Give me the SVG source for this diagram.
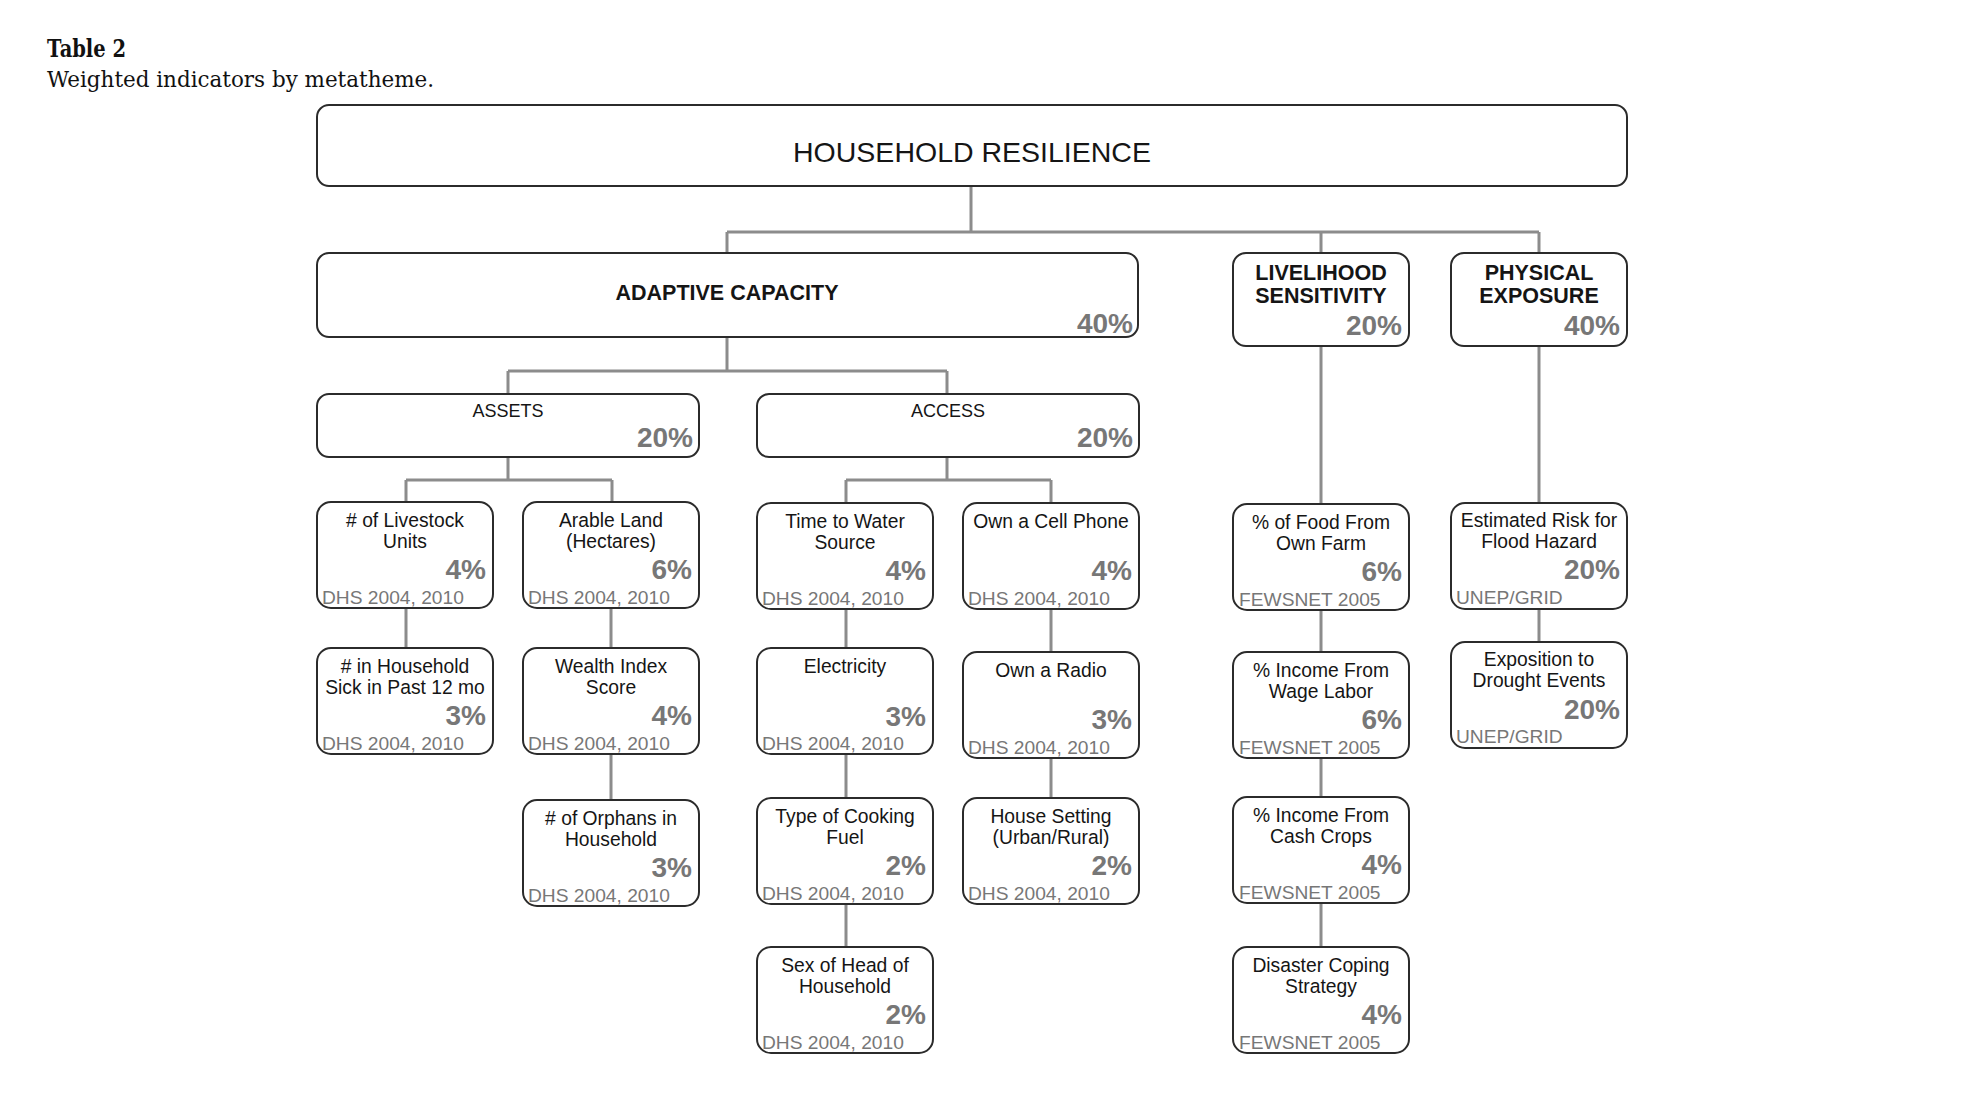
<svg xmlns="http://www.w3.org/2000/svg" width="1980" height="1094" viewBox="0 0 1980 1094">
<style>
.bg{fill:#fff}
.box{fill:#fff;stroke:#2b2b2b;stroke-width:2}
.conn{stroke:#8c8c8c;stroke-width:3;fill:none}
.cap{font-family:"DejaVu Serif","Liberation Serif",serif;fill:#111}
.t{font-family:"Liberation Sans",Arial,sans-serif;fill:#151515;text-anchor:middle}
.lbl{font-size:19.3px}
.hdr{font-size:21.5px;font-weight:bold}
.pct{font-family:"Liberation Sans",Arial,sans-serif;font-weight:bold;font-size:28px;fill:#777;text-anchor:end}
.src{font-family:"Liberation Sans",Arial,sans-serif;font-size:19.2px;fill:#777}
</style>
<rect class="bg" x="0" y="0" width="1980" height="1094"/>
<g id="caption">
<text class="cap" x="47" y="57" font-size="23.5" font-weight="bold" textLength="79" lengthAdjust="spacingAndGlyphs">Table 2</text>
<text class="cap" x="47" y="87" font-size="21.5" textLength="387" lengthAdjust="spacingAndGlyphs">Weighted indicators by metatheme.</text>
</g>
<g id="connectors">
<path class="conn" d="M971,186V232M727,232H1539M727,232V253M1321,232V253M1539,232V253"/>
<path class="conn" d="M727,337V371M508,371H947M508,371V394M947,371V394"/>
<path class="conn" d="M508,457V480M406,480H612M406,480V502M612,480V502"/>
<path class="conn" d="M947,457V480M846,480H1051M846,480V503M1051,480V503"/>
<path class="conn" d="M406,608V648M611,608V648M611,754V800"/>
<path class="conn" d="M846,609V648M846,754V798M846,904V947M1051,609V652M1051,758V798"/>
<path class="conn" d="M1321,346V504M1321,610V652M1321,758V797M1321,903V947M1539,346V503M1539,609V642"/>
</g>
<g id="household-resilience">
<rect class="box" x="317" y="105" width="1310" height="81" rx="12"/>
<text class="t" x="972" y="162" font-size="28.5">HOUSEHOLD RESILIENCE</text>
</g>
<g id="adaptive-capacity">
<rect class="box" x="317" y="253" width="821" height="84" rx="12"/>
<text class="t hdr" x="727" y="300">ADAPTIVE CAPACITY</text>
<text class="pct" x="1133" y="333" font-size="27">40%</text>
</g>
<g id="livelihood-sensitivity">
<rect class="box" x="1233" y="253" width="176" height="93" rx="13"/>
<text class="t hdr" x="1321" y="280" font-size="21">LIVELIHOOD</text>
<text class="t hdr" x="1321" y="303" font-size="21">SENSITIVITY</text>
<text class="pct" x="1402" y="335">20%</text>
</g>
<g id="physical-exposure">
<rect class="box" x="1451" y="253" width="176" height="93" rx="13"/>
<text class="t hdr" x="1539" y="280" font-size="21">PHYSICAL</text>
<text class="t hdr" x="1539" y="303" font-size="21">EXPOSURE</text>
<text class="pct" x="1620" y="335">40%</text>
</g>
<g id="assets">
<rect class="box" x="317" y="394" width="382" height="63" rx="12"/>
<text class="t" x="508" y="417" font-size="18">ASSETS</text>
<text class="pct" x="693" y="447">20%</text>
</g>
<g id="access">
<rect class="box" x="757" y="394" width="382" height="63" rx="12"/>
<text class="t" x="948" y="417" font-size="18">ACCESS</text>
<text class="pct" x="1133" y="447">20%</text>
</g>
<g id="livestock" transform="translate(317,502)">
<rect class="box" width="176" height="106" rx="14"/>
<text class="t lbl" x="88" y="25"># of Livestock</text><text class="t lbl" x="88" y="46">Units</text>
<text class="pct" x="169" y="77">4%</text>
<text class="src" x="5" y="102">DHS 2004, 2010</text>
</g>
<g id="arable-land" transform="translate(523,502)">
<rect class="box" width="176" height="106" rx="14"/>
<text class="t lbl" x="88" y="25">Arable Land</text><text class="t lbl" x="88" y="46">(Hectares)</text>
<text class="pct" x="169" y="77">6%</text>
<text class="src" x="5" y="102">DHS 2004, 2010</text>
</g>
<g id="sick" transform="translate(317,648)">
<rect class="box" width="176" height="106" rx="14"/>
<text class="t lbl" x="88" y="25"># in Household</text><text class="t lbl" x="88" y="46">Sick in Past 12 mo</text>
<text class="pct" x="169" y="77">3%</text>
<text class="src" x="5" y="102">DHS 2004, 2010</text>
</g>
<g id="wealth-index" transform="translate(523,648)">
<rect class="box" width="176" height="106" rx="14"/>
<text class="t lbl" x="88" y="25">Wealth Index</text><text class="t lbl" x="88" y="46">Score</text>
<text class="pct" x="169" y="77">4%</text>
<text class="src" x="5" y="102">DHS 2004, 2010</text>
</g>
<g id="orphans" transform="translate(523,800)">
<rect class="box" width="176" height="106" rx="14"/>
<text class="t lbl" x="88" y="25"># of Orphans in</text><text class="t lbl" x="88" y="46">Household</text>
<text class="pct" x="169" y="77">3%</text>
<text class="src" x="5" y="102">DHS 2004, 2010</text>
</g>
<g id="water" transform="translate(757,503)">
<rect class="box" width="176" height="106" rx="14"/>
<text class="t lbl" x="88" y="25">Time to Water</text><text class="t lbl" x="88" y="46">Source</text>
<text class="pct" x="169" y="77">4%</text>
<text class="src" x="5" y="102">DHS 2004, 2010</text>
</g>
<g id="electricity" transform="translate(757,648)">
<rect class="box" width="176" height="106" rx="14"/>
<text class="t lbl" x="88" y="25">Electricity</text>
<text class="pct" x="169" y="78">3%</text>
<text class="src" x="5" y="102">DHS 2004, 2010</text>
</g>
<g id="cooking-fuel" transform="translate(757,798)">
<rect class="box" width="176" height="106" rx="14"/>
<text class="t lbl" x="88" y="25">Type of Cooking</text><text class="t lbl" x="88" y="46">Fuel</text>
<text class="pct" x="169" y="77">2%</text>
<text class="src" x="5" y="102">DHS 2004, 2010</text>
</g>
<g id="sex-head" transform="translate(757,947)">
<rect class="box" width="176" height="106" rx="14"/>
<text class="t lbl" x="88" y="25">Sex of Head of</text><text class="t lbl" x="88" y="46">Household</text>
<text class="pct" x="169" y="77">2%</text>
<text class="src" x="5" y="102">DHS 2004, 2010</text>
</g>
<g id="cell-phone" transform="translate(963,503)">
<rect class="box" width="176" height="106" rx="14"/>
<text class="t lbl" x="88" y="25">Own a Cell Phone</text>
<text class="pct" x="169" y="77">4%</text>
<text class="src" x="5" y="102">DHS 2004, 2010</text>
</g>
<g id="radio" transform="translate(963,652)">
<rect class="box" width="176" height="106" rx="14"/>
<text class="t lbl" x="88" y="25">Own a Radio</text>
<text class="pct" x="169" y="77">3%</text>
<text class="src" x="5" y="102">DHS 2004, 2010</text>
</g>
<g id="house-setting" transform="translate(963,798)">
<rect class="box" width="176" height="106" rx="14"/>
<text class="t lbl" x="88" y="25">House Setting</text><text class="t lbl" x="88" y="46">(Urban/Rural)</text>
<text class="pct" x="169" y="77">2%</text>
<text class="src" x="5" y="102">DHS 2004, 2010</text>
</g>
<g id="food-own-farm" transform="translate(1233,504)">
<rect class="box" width="176" height="106" rx="14"/>
<text class="t lbl" x="88" y="25">% of Food From</text><text class="t lbl" x="88" y="46">Own Farm</text>
<text class="pct" x="169" y="77">6%</text>
<text class="src" x="6" y="102">FEWSNET 2005</text>
</g>
<g id="wage-labor" transform="translate(1233,652)">
<rect class="box" width="176" height="106" rx="14"/>
<text class="t lbl" x="88" y="25">% Income From</text><text class="t lbl" x="88" y="46">Wage Labor</text>
<text class="pct" x="169" y="77">6%</text>
<text class="src" x="6" y="102">FEWSNET 2005</text>
</g>
<g id="cash-crops" transform="translate(1233,797)">
<rect class="box" width="176" height="106" rx="14"/>
<text class="t lbl" x="88" y="25">% Income From</text><text class="t lbl" x="88" y="46">Cash Crops</text>
<text class="pct" x="169" y="77">4%</text>
<text class="src" x="6" y="102">FEWSNET 2005</text>
</g>
<g id="disaster-coping" transform="translate(1233,947)">
<rect class="box" width="176" height="106" rx="14"/>
<text class="t lbl" x="88" y="25">Disaster Coping</text><text class="t lbl" x="88" y="46">Strategy</text>
<text class="pct" x="169" y="77">4%</text>
<text class="src" x="6" y="102">FEWSNET 2005</text>
</g>
<g id="flood-hazard" transform="translate(1451,503)">
<rect class="box" width="176" height="106" rx="14"/>
<text class="t lbl" x="88" y="24">Estimated Risk for</text><text class="t lbl" x="88" y="45">Flood Hazard</text>
<text class="pct" x="169" y="76">20%</text>
<text class="src" x="5" y="101">UNEP/GRID</text>
</g>
<g id="drought" transform="translate(1451,642)">
<rect class="box" width="176" height="106" rx="14"/>
<text class="t lbl" x="88" y="24">Exposition to</text><text class="t lbl" x="88" y="45">Drought Events</text>
<text class="pct" x="169" y="77">20%</text>
<text class="src" x="5" y="101">UNEP/GRID</text>
</g>
</svg>
